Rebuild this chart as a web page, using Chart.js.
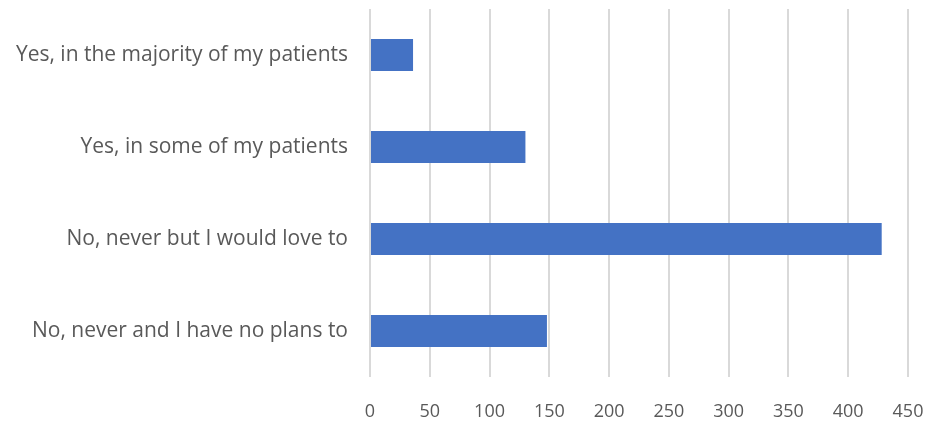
<!DOCTYPE html>
<html>
<head>
<meta charset="utf-8">
<script src="https://cdn.jsdelivr.net/npm/chart.js@4"></script>
<style>
  html, body { margin: 0; padding: 0; background: #fff; }
  #wrap { width: 927px; height: 422px; }
</style>
</head>
<body>
<div id="wrap"><canvas id="grafico" width="927" height="422"></canvas></div>
<script>
// categorias y valores
const categorias = [
  'Yes, in the majority of my patients',
  'Yes, in some of my patients',
  'No, never but I would love to',
  'No, never and I have no plans to'
];
const valores = [36, 130, 428, 148];
const ejeX = { min: 0, max: 450, paso: 50 };

const ctx = document.getElementById('grafico').getContext('2d');

const chart = new Chart(ctx, {
  type: 'bar',
  data: {
    labels: categorias,
    datasets: [{
      data: valores,
      backgroundColor: '#4472c4',
      borderWidth: 0,
      categoryPercentage: 0.7,
      barPercentage: 0.5
    }]
  },
  options: {
    indexAxis: 'y',
    responsive: false,
    animation: false,
    layout: { padding: { top: 9, right: 19, bottom: 0, left: 0 } },
    plugins: { legend: { display: false }, tooltip: { enabled: false } },
    scales: {
      x: {
        min: ejeX.min,
        max: ejeX.max,
        ticks: {
          stepSize: ejeX.paso,
          color: '#595959',
          font: { family: 'Open Sans', size: 18 },
          padding: 24
        },
        grid: { color: '#d9d9d9', lineWidth: 2, drawTicks: false },
        border: { display: false },
        afterFit: s => {
          s.height = 45;
          s.paddingLeft = 0; s.paddingRight = 0;
        }
      },
      y: {
        ticks: {
          color: '#595959',
          font: { family: 'Open Sans', size: 21 },
          padding: 14
        },
        grid: { display: false },
        border: { display: false },
        afterFit: s => {
          s.width = 370;
          s.paddingTop = 0; s.paddingBottom = 0;
        }
      }
    }
  }
});
</script>
</body>
</html>
